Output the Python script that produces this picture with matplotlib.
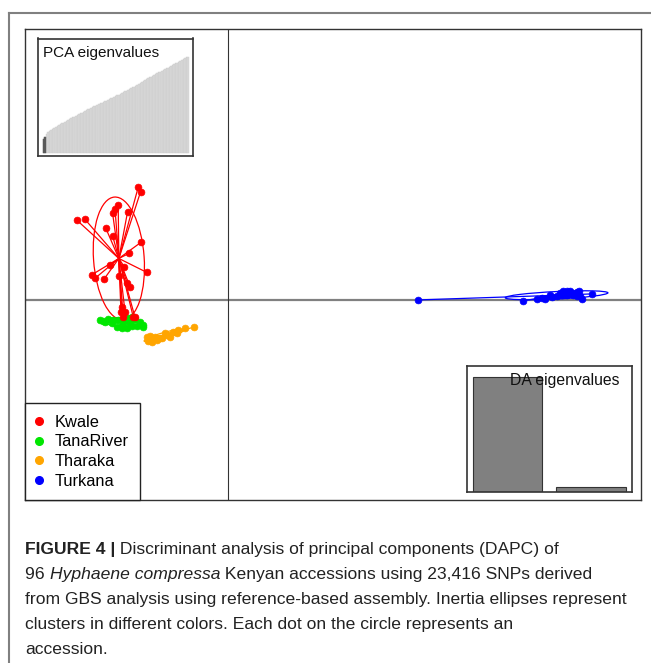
import numpy as np
import matplotlib
matplotlib.use('Agg')
import matplotlib.pyplot as plt
from matplotlib.patches import Ellipse
from matplotlib.lines import Line2D

plt.rcParams['font.family'] = ['Liberation Sans', 'DejaVu Sans']

# ---------------- data ----------------
groups = ['Kwale', 'TanaRiver', 'Tharaka', 'Turkana']
group_colors = ['#FF0000', '#00E600', '#FFA500', '#0000FF']

kwale_x = [-4.49, -4.37, -7.57, -7.17, -5.49, -5.65, -5.77, -5.02, -6.12, -5.77,
           -4.35, -4.94, -4.07, -6.82, -6.65, -6.19, -5.90, -5.44, -5.19, -5.04,
           -4.90, -5.35, -5.15, -4.74, -5.32, -5.24, -4.65]
kwale_y = [5.66, 5.44, 4.03, 4.08, 4.78, 4.58, 4.36, 4.44, 3.64, 3.24,
           2.91, 2.36, 1.41, 1.28, 1.11, 1.08, 1.78, 1.24, 1.69, 0.86,
           0.69, -0.59, -0.56, -0.81, -0.31, -0.81, -0.84]

tana_x = [-6.40, -6.15, -5.99, -5.74, -5.49, -5.24, -4.99, -4.82, -4.65, -4.40,
          -4.24, -4.24, -4.57, -4.82, -5.07, -5.32, -5.57, -5.82, -6.24, -5.24, -4.90]
tana_y = [-0.98, -1.06, -0.94, -0.98, -0.98, -0.93, -0.86, -0.81, -0.94, -1.09,
          -1.23, -1.31, -1.26, -1.26, -1.36, -1.36, -1.31, -1.14, -1.03, -1.19, -1.14]

tharaka_x = [-4.07, -3.82, -3.57, -3.32, -3.07, -2.74, -2.49, -2.15, -1.70, -2.90,
             -3.40, -3.15, -3.65, -3.90, -2.57, -3.99, -3.80]
tharaka_y = [-1.81, -1.89, -1.98, -1.89, -1.73, -1.56, -1.48, -1.39, -1.33, -1.81,
             -1.86, -1.64, -1.81, -1.78, -1.64, -2.03, -2.08]

turkana_x = [9.52, 14.77, 15.44, 15.69, 15.85, 16.19, 16.10, 16.60, 16.77, 17.10,
             17.19, 17.44, 17.57, 17.60, 17.69, 17.44, 16.94, 18.19, 16.69, 17.27,
             16.44, 16.95]
turkana_y = [0.03, -0.01, 0.09, 0.13, 0.09, 0.16, 0.29, 0.38, 0.46, 0.49,
             0.38, 0.43, 0.46, 0.21, 0.09, 0.21, 0.29, 0.33, 0.26, 0.26,
             0.23, 0.48]

pca_eig = [14, 16, 19, 21, 22, 23, 24, 25, 26, 27,
           27.5, 28.5, 29.5, 30, 31, 32, 33, 33.8, 34.6, 35.4,
           36.2, 37, 37.8, 38.6, 39.4, 40.2, 41, 42, 42.7, 43.5,
           44.2, 44.9, 45.6, 46.4, 47.1, 47.8, 48.5, 49.3, 50, 50.7,
           51.5, 52.2, 52.9, 53.6, 54.4, 55.1, 55.8, 56.5, 57.3, 58,
           58.8, 59.6, 60.5, 61.3, 62.1, 62.9, 63.7, 64.5, 65.4, 66.2,
           67, 67.9, 68.8, 69.7, 70.6, 71.5, 72.5, 73.4, 74.3, 75.2,
           76.1, 77, 77.8, 78.6, 79.4, 80.2, 81, 81.8, 82.6, 83.4,
           84.2, 85, 85.8, 86.7, 87.5, 88.4, 89.2, 90.1, 90.9, 91.8,
           92.6, 93.5, 94.3, 95.2, 96]
n_pca_retained = 2
da_eig = [115, 4.3]

caption_lines = [
    [("FIGURE 4 |", "bold", "normal"),
     (" Discriminant analysis of principal components (DAPC) of", "normal", "normal")],
    [("96 ", "normal", "normal"), ("Hyphaene compressa", "normal", "italic"),
     (" Kenyan accessions using 23,416 SNPs derived", "normal", "normal")],
    [("from GBS analysis using reference-based assembly. Inertia ellipses represent", "normal", "normal")],
    [("clusters in different colors. Each dot on the circle represents an", "normal", "normal")],
    [("accession.", "normal", "normal")],
]

# ---------------- figure ----------------
W, H = 651, 663
fig = plt.figure(figsize=(W / 100, H / 100), dpi=100)

def fx(px):
    return px / W

def fy(py):
    return 1 - py / H

# page frame
fig.add_artist(Line2D([fx(9), 1], [fy(13), fy(13)], transform=fig.transFigure,
                      color='#808080', lw=1.5))
fig.add_artist(Line2D([fx(9), fx(9)], [0, fy(13)], transform=fig.transFigure,
                      color='#808080', lw=1.5))

# main axes
L, R, T, B = 25, 641, 29.3, 500
ax = fig.add_axes([fx(L), fy(B), (R - L) / W, (B - T) / H])
ax.set_xlim((L - 228) / 20, (R - 228) / 20)
ax.set_ylim((300.5 - B) / 20, (300.5 - T) / 20)
ax.set_xticks([])
ax.set_yticks([])
for s in ax.spines.values():
    s.set_color('#333333')
    s.set_linewidth(1.0)
ax.axhline(0, color='#808080', lw=1.6, zorder=1)
ax.axvline(0, color='#333333', lw=0.8, zorder=1)

data = [(kwale_x, kwale_y), (tana_x, tana_y), (tharaka_x, tharaka_y), (turkana_x, turkana_y)]
order = [3, 2, 1, 0]
for gi in order:
    x = np.array(data[gi][0])
    y = np.array(data[gi][1])
    c = group_colors[gi]
    cx, cy = x.mean(), y.mean()
    for xi, yi in zip(x, y):
        ax.plot([xi, cx], [yi, cy], color=c, lw=0.9, zorder=2)
    cov = np.cov(x, y, bias=True)
    vals, vecs = np.linalg.eigh(cov)
    angle = np.degrees(np.arctan2(vecs[1, 1], vecs[0, 1]))
    e = Ellipse((cx, cy), width=2 * 1.5 * np.sqrt(vals[1]), height=2 * 1.5 * np.sqrt(vals[0]),
                angle=angle, fill=False, edgecolor=c, lw=0.9, zorder=2)
    ax.add_patch(e)
    ax.scatter(x, y, s=24, color=c, edgecolors=c, linewidths=0.5, zorder=3)

handles = [Line2D([], [], marker='o', ls='', color=c, markersize=5.5) for c in group_colors]
leg = ax.legend(handles, groups, loc='lower left', bbox_to_anchor=(0, 0), borderaxespad=0,
                fontsize=11.8, frameon=True, fancybox=False, edgecolor='#222222',
                framealpha=1, borderpad=0.7, labelspacing=0.28, handlelength=0.3,
                handletextpad=0.8)
leg.get_frame().set_linewidth(1.0)

# PCA eigenvalues inset
pl, pr, pt, pb = 37.7, 193.3, 38.5, 155.5
axp = fig.add_axes([fx(pl), fy(pb), (pr - pl) / W, (pb - pt) / H])
idx = np.arange(1, len(pca_eig) + 1)
axp.bar(idx, pca_eig, width=1.0, color='#d8d8d8', edgecolor='#cccccc', linewidth=0.3)
axp.bar(idx[:n_pca_retained], pca_eig[:n_pca_retained], width=1.0, color='#5a5a5a',
        edgecolor='#5a5a5a', linewidth=0.3)
axp.set_xlim(-2.75, 98.5)
axp.set_ylim(-2.8, 114.2)
axp.set_xticks([])
axp.set_yticks([])
for s in axp.spines.values():
    s.set_color('#333333')
    s.set_linewidth(1.2)
axp.text(0.032, 0.88, 'PCA eigenvalues', transform=axp.transAxes, ha='left', va='center',
         fontsize=11, color='#111111')

# DA eigenvalues inset
dl, dr, dt, db = 466.7, 631.7, 366, 491.7
axd = fig.add_axes([fx(dl), fy(db), (dr - dl) / W, (db - dt) / H])
axd.bar([0.7, 1.9], da_eig, width=1.0, color='#808080', edgecolor='#333333', linewidth=0.8)
axd.set_xlim(0.114, 2.486)
axd.set_ylim(0, 125.7)
axd.set_xticks([])
axd.set_yticks([])
for s in axd.spines.values():
    s.set_color('#333333')
    s.set_linewidth(1.2)
axd.text(0.929, 0.883, 'DA eigenvalues', transform=axd.transAxes, ha='right', va='center',
         fontsize=11.3, color='#111111', zorder=5)

# caption
cap_family = ['Liberation Sans', 'DejaVu Sans']
renderer = fig.canvas.get_renderer()
baselines = [554, 579, 604, 629, 654]
for line, by in zip(caption_lines, baselines):
    xpos = fx(25)
    for txt, wgt, sty in line:
        t = fig.text(xpos, fy(by), txt, fontsize=12.6, fontweight=wgt, fontstyle=sty,
                     family=cap_family, ha='left', va='baseline', color='#222222')
        bb = t.get_window_extent(renderer=renderer)
        xpos = bb.x1 / W

fig.savefig('out.png', dpi=100)
